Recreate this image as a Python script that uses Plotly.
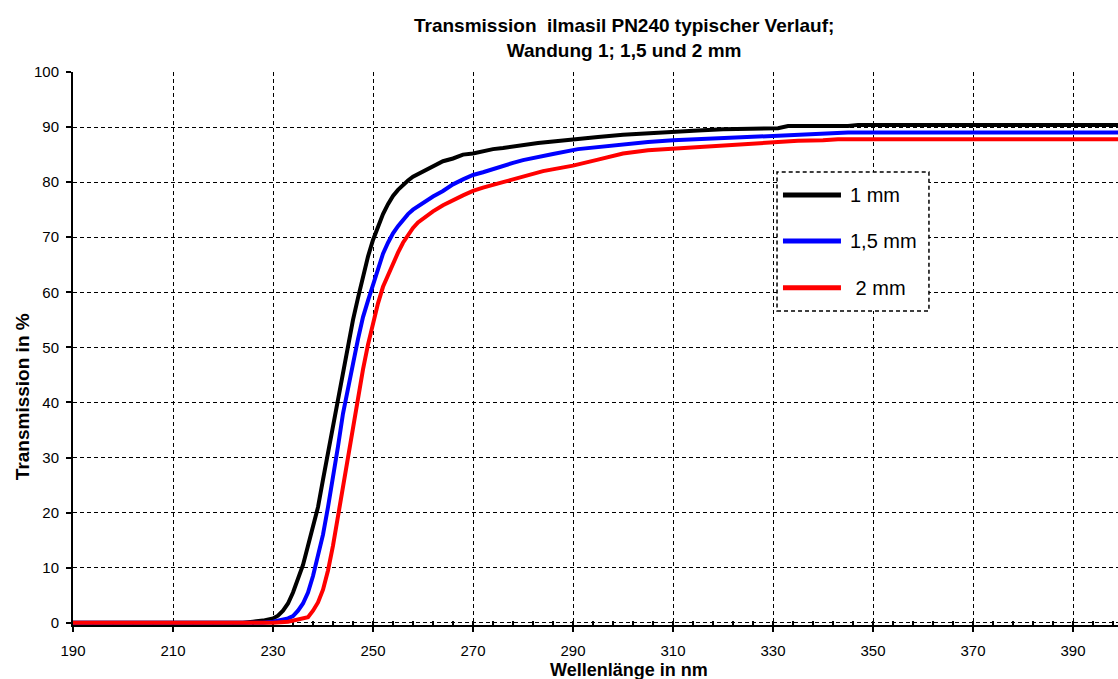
import plotly.graph_objects as go

# Wavelength (nm) and transmission (%) readings
wl_1mm = [190, 224, 226, 228, 230, 231, 232, 233, 234, 235, 236, 237, 238, 239, 240,
          241, 242, 243, 244, 245, 246, 247, 248, 249, 250, 251, 252, 253, 254, 255,
          256, 257, 258, 260, 262, 264, 266, 268, 270, 272, 274, 276, 278, 280, 283,
          286, 290, 295, 300, 305, 310, 315, 320, 325, 331, 333, 345, 347, 399]
t_1mm = [0, 0, 0.2, 0.4, 0.8, 1.3, 2.2, 3.5, 5.5, 8, 10.5, 14, 17.5, 21, 26,
         31, 36, 41, 46, 51, 55, 59, 63, 66.5, 69.5, 72, 74.2, 76, 77.5, 78.6,
         79.5, 80.3, 81, 82, 83, 83.8, 84.3, 85, 85.2, 85.6, 86, 86.2, 86.5, 86.8, 87.1,
         87.4, 87.8, 88.2, 88.6, 88.9, 89.2, 89.4, 89.6, 89.7, 89.8, 90.2, 90.2, 90.4, 90.4]

wl_15mm = [190, 228, 230, 232, 233, 234, 235, 236, 237, 238, 239, 240, 241, 242, 243,
           244, 245, 246, 247, 248, 249, 250, 251, 252, 253, 254, 255, 256, 257, 258,
           260, 262, 264, 266, 268, 270, 272, 274, 276, 278, 280, 283, 286, 291, 295,
           300, 305, 310, 320, 330, 335, 340, 345, 399]
t_15mm = [0, 0, 0.2, 0.5, 0.8, 1.2, 2.2, 3.5, 5.5, 8.5, 12, 16, 21, 26, 32,
          38, 43, 47, 51.5, 55.5, 58.5, 61.5, 64.5, 67, 69, 70.7, 72, 73.2, 74.2, 75,
          76.3, 77.4, 78.4, 79.6, 80.5, 81.3, 81.8, 82.4, 83, 83.5, 84, 84.6, 85.1, 86, 86.4,
          86.9, 87.3, 87.6, 88, 88.3, 88.5, 88.8, 89.0, 89.0]

wl_2mm = [190, 230, 233, 234, 235, 236, 237, 238, 239, 240, 241, 242, 243, 244, 245,
          246, 247, 248, 249, 250, 251, 252, 253, 254, 255, 256, 257, 258, 259, 260,
          262, 264, 266, 268, 270, 272, 276, 278, 280, 284, 287, 290, 295, 300, 305,
          310, 315, 320, 325, 330, 335, 340, 343, 399]
t_2mm = [0, 0, 0.2, 0.4, 0.6, 0.8, 1, 2.2, 3.7, 6, 9.5, 14, 19.5, 24.5, 30,
         36, 41.5, 46, 50.5, 54.5, 58, 61, 63.2, 65.3, 67.2, 69, 70.5, 71.7, 72.7, 73.4,
         74.7, 75.8, 76.8, 77.6, 78.4, 79, 80, 80.5, 81, 82, 82.5, 83, 84.1, 85.2, 85.8,
         86.1, 86.3, 86.6, 86.9, 87.3, 87.5, 87.6, 87.8, 87.8]

series_names = ["1 mm", "1,5 mm", " 2 mm"]
series_colors = ["#000000", "#0000FF", "#FF0000"]

x_ticks = list(range(190, 400, 20))
y_ticks = list(range(0, 101, 10))

FONT = "Arial, Liberation Sans, sans-serif"

fig = go.Figure()
for wl, t, name, col in zip([wl_1mm, wl_15mm, wl_2mm], [t_1mm, t_15mm, t_2mm],
                            series_names, series_colors):
    fig.add_trace(go.Scatter(x=wl, y=t, mode="lines", name=name,
                             line=dict(color=col, width=4), showlegend=False,
                             cliponaxis=False))

fig.update_layout(
    width=1118, height=679,
    margin=dict(l=73, r=0, t=72, b=54),
    paper_bgcolor="white", plot_bgcolor="white",
    font=dict(family=FONT, color="black", size=15),
    showlegend=False,
)

fig.update_xaxes(
    range=[190, 399], tickvals=x_ticks, ticktext=[str(v) for v in x_ticks],
    showgrid=True, gridcolor="black", gridwidth=1, griddash="4px,3px",
    zeroline=False, showline=True, linecolor="black", linewidth=2,
    ticks="outside", ticklen=5, tickwidth=1.5, tickcolor="black",
    tickfont=dict(size=15, family=FONT), ticklabelstandoff=6,
    minor=dict(dtick=4, tick0=190, ticks="inside", ticklen=4, tickcolor="black",
               tickwidth=1.5, showgrid=False),
    layer="below traces",
)
fig.update_yaxes(
    range=[-0.4, 100], tickvals=y_ticks, ticktext=[str(v) for v in y_ticks],
    showgrid=True, gridcolor="black", gridwidth=1, griddash="4px,3px",
    zeroline=False, showline=True, linecolor="black", linewidth=2,
    ticks="outside", ticklen=5, tickwidth=1.5, tickcolor="black",
    tickfont=dict(size=15, family=FONT), ticklabelstandoff=4,
    layer="below traces",
)

annotations = [
    dict(text="<b>Transmission  ilmasil PN240 typischer Verlauf;<br>Wandung 1; 1,5 und 2 mm</b>",
         x=0.527, y=1.0617, xref="paper", yref="paper", xanchor="center", yanchor="middle",
         showarrow=False, font=dict(size=19, family=FONT, color="black")),
    dict(text="<b>Wellenlänge in nm</b>", x=0.532, y=-0.0817, xref="paper", yref="paper",
         xanchor="center", yanchor="middle", showarrow=False,
         font=dict(size=18, family=FONT, color="black")),
    dict(text="<b>Transmission in %</b>", x=-0.0488, y=0.412, xref="paper", yref="paper",
         xanchor="center", yanchor="middle", textangle=-90, showarrow=False,
         font=dict(size=19, family=FONT, color="black")),
]

# Custom legend (dashed box, long line samples)
shapes = [dict(type="rect", xref="paper", yref="paper", x0=0.6737, x1=0.8191,
               y0=0.568, y1=0.819, fillcolor="white",
               line=dict(color="black", width=1.5, dash="4px,3px"), layer="above")]
leg_y = [0.7777, 0.6942, 0.6098]
for name, col, yy in zip(series_names, series_colors, leg_y):
    shapes.append(dict(type="line", xref="paper", yref="paper", x0=0.6794, x1=0.7349,
                       y0=yy, y1=yy, line=dict(color=col, width=5), layer="above"))
    annotations.append(dict(text=name, x=0.7416, y=yy, xref="paper", yref="paper",
                            xanchor="left", yanchor="middle", showarrow=False,
                            font=dict(size=20, family=FONT, color="black")))

fig.update_layout(annotations=annotations, shapes=shapes)

fig.write_html("out.html", config={"displayModeBar": False},
               post_script="document.body.style.margin='0';")
